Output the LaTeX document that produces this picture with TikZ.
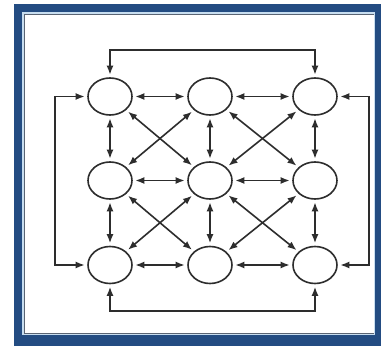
\documentclass[tikz,border=0pt]{standalone}
\usetikzlibrary{arrows.meta,shapes.geometric}
\definecolor{frameblue}{RGB}{35,76,130}
\definecolor{framelight}{RGB}{200,222,240}
\definecolor{framedark}{RGB}{90,100,115}
\definecolor{ink}{RGB}{45,45,45}
\begin{document}
\begin{tikzpicture}[x=1pt,y=-1pt,
  state/.style={ellipse, draw=ink, line width=1.6pt, fill=white,
    minimum width=44pt, minimum height=37pt, inner sep=0pt},
  conn/.style={draw=ink, line width=1.6pt,
    {Latex[length=9pt,width=7pt]}-{Latex[length=9pt,width=7pt]},
    shorten <=2.5pt, shorten >=2.5pt}]
\useasboundingbox (0,0) rectangle (381,350);
% frame
\fill[frameblue] (14,4) rectangle (381,346);
\fill[framelight] (21.5,12.5) rectangle (375,335);
\fill[framedark] (23.5,14.5) rectangle (374,334);
\fill[white] (25,15.5) rectangle (373.5,333.5);
% nodes
\node[state] (n11) at (110,96.5) {};
\node[state] (n12) at (210,96.5) {};
\node[state] (n13) at (315,96.5) {};
\node[state] (n21) at (110,180.5) {};
\node[state] (n22) at (210,180.5) {};
\node[state] (n23) at (315,180.5) {};
\node[state] (n31) at (110,265) {};
\node[state] (n32) at (210,265) {};
\node[state] (n33) at (315,265) {};
% corners of outer loops
\coordinate (t1) at (110,50);
\coordinate (t3) at (315,50);
\coordinate (l1) at (55,96.5);
\coordinate (l7) at (55,265);
\coordinate (r3) at (369,96.5);
\coordinate (r9) at (369,265);
\coordinate (b7) at (110,311);
\coordinate (b9) at (315,311);
% horizontal
\draw[conn] (n11) -- (n12);
\draw[conn] (n12) -- (n13);
\draw[conn] (n21) -- (n22);
\draw[conn] (n22) -- (n23);
\draw[conn] (n31) -- (n32);
\draw[conn] (n32) -- (n33);
% vertical
\draw[conn] (n11) -- (n21);
\draw[conn] (n21) -- (n31);
\draw[conn] (n12) -- (n22);
\draw[conn] (n22) -- (n32);
\draw[conn] (n13) -- (n23);
\draw[conn] (n23) -- (n33);
% diagonals
\draw[conn] (n11) -- (n22);
\draw[conn] (n12) -- (n21);
\draw[conn] (n12) -- (n23);
\draw[conn] (n13) -- (n22);
\draw[conn] (n21) -- (n32);
\draw[conn] (n22) -- (n31);
\draw[conn] (n22) -- (n33);
\draw[conn] (n23) -- (n32);
% outer loops
\draw[conn] (n11) -- (t1) -- (t3) -- (n13);
\draw[conn] (n11) -- (l1) -- (l7) -- (n31);
\draw[conn] (n13) -- (r3) -- (r9) -- (n33);
\draw[conn] (n31) -- (b7) -- (b9) -- (n33);
\end{tikzpicture}
\end{document}
